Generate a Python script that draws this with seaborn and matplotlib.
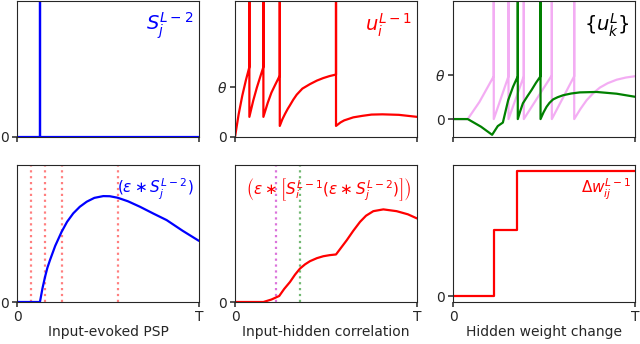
import numpy as np
import pandas as pd
import matplotlib
matplotlib.use("Agg")
import matplotlib.pyplot as plt
import seaborn as sns

sns.set_style("ticks")
plt.rcParams['font.family'] = ['DejaVu Sans']
plt.rcParams['mathtext.fontset'] = 'dejavusans'

SPIKE = 6.0  # spikes drawn off the top of the axes

# --- Input spike train S_j^{L-2}
t_input = [0.0, 0.126, 0.126, 0.126, 1.0]
s_input = [0.0, 0.0, SPIKE, 0.0, 0.0]

# --- Hidden membrane u_i^{L-1}
t_hidden = [0.0, 0.02, 0.04, 0.06, 0.079, 0.079, 0.079,
            0.10, 0.12, 0.14, 0.156, 0.156, 0.156,
            0.18, 0.20, 0.22, 0.246, 0.246, 0.246,
            0.26, 0.275, 0.29, 0.302, 0.32, 0.339, 0.37, 0.412, 0.45, 0.485, 0.52, 0.555, 0.555, 0.555,
            0.58, 0.60, 0.65, 0.70, 0.75, 0.81, 0.90, 1.0]
u_hidden = [0.0, 0.45, 0.82, 1.13, 1.39, SPIKE, 0.40,
            0.72, 0.98, 1.21, 1.39, SPIKE, 0.40,
            0.68, 0.88, 1.03, 1.22, SPIKE, 0.22,
            0.35, 0.46, 0.56, 0.63, 0.74, 0.84, 0.96, 1.05, 1.12, 1.17, 1.21, 1.24, SPIKE, 0.22,
            0.29, 0.33, 0.39, 0.42, 0.445, 0.45, 0.44, 0.40]
hidden_spike_times = [0.079, 0.156, 0.246, 0.555]

# --- Output membranes {u_k^L}
t_out_a = [0.0, 0.081, 0.154, 0.215, 0.246, 0.274, 0.303, 0.33, 0.356, 0.356, 0.356,
           0.37, 0.384, 0.41, 0.431, 0.456, 0.481, 0.481, 0.481,
           0.497, 0.514, 0.53, 0.55, 0.575, 0.605, 0.65, 0.697, 0.789, 0.899, 1.0]
u_out_a = [0.0, 0.0, -0.175, -0.36, -0.16, -0.08, 0.43, 0.74, 0.98, SPIKE, 0.0,
           0.19, 0.36, 0.53, 0.66, 0.83, 0.98, SPIKE, 0.0,
           0.15, 0.28, 0.37, 0.45, 0.50, 0.545, 0.585, 0.61, 0.62, 0.58, 0.51]
t_out_b = [0.0, 0.081, 0.145, 0.224, 0.224, 0.224, 0.305, 0.305, 0.305,
           0.389, 0.389, 0.389, 0.543, 0.543, 0.543, 0.666, 0.666, 0.666,
           0.70, 0.734, 0.77, 0.807, 0.85, 0.899, 0.95, 1.0]
u_out_b = [0.0, 0.0, 0.39, 0.98, SPIKE, 0.0, 0.98, SPIKE, 0.0,
           0.98, SPIKE, 0.0, 1.0, SPIKE, 0.0, 0.98, SPIKE, 0.0,
           0.23, 0.43, 0.59, 0.72, 0.82, 0.90, 0.95, 0.98]
output_first_spikes = [0.226, 0.356]

# --- Input-evoked PSP
t_psp = [0.0, 0.126, 0.14, 0.154, 0.167, 0.181, 0.21, 0.245, 0.275, 0.309, 0.345,
         0.383, 0.425, 0.474, 0.51, 0.553, 0.61, 0.676, 0.75, 0.822, 0.91, 1.0]
v_psp = [0.0, 0.0, 0.10, 0.183, 0.25, 0.305, 0.41, 0.512, 0.585, 0.647, 0.695,
         0.732, 0.760, 0.773, 0.772, 0.761, 0.735, 0.695, 0.645, 0.598, 0.52, 0.446]

# --- Input-hidden correlation
t_corr = [0.0, 0.156, 0.20, 0.243, 0.27, 0.302, 0.33, 0.357, 0.385, 0.412, 0.45, 0.485, 0.52, 0.555,
          0.585, 0.614, 0.65, 0.687, 0.72, 0.760, 0.815, 0.888, 0.95, 1.0]
v_corr = [0.0, 0.0, 0.018, 0.044, 0.095, 0.146, 0.20, 0.244, 0.275, 0.298, 0.32, 0.334, 0.342, 0.347,
          0.40, 0.451, 0.52, 0.585, 0.63, 0.663, 0.676, 0.663, 0.64, 0.61]

# --- Hidden weight change
t_dw = [0.0, 0.224, 0.354, 1.0]
v_dw = [0.0, 1.0, 1.9, 1.9]

xlabels = ["Input-evoked PSP", "Input-hidden correlation", "Hidden weight change"]
labels_top = [r"$S_j^{L-2}$", r"$u_i^{L-1}$", r"$\{u_k^L\}$"]
labels_bot = [r"$(\varepsilon \ast S_j^{L-2})$",
              r"$\left(\varepsilon \ast \left[S_i^{L-1}(\varepsilon \ast S_j^{L-2})\right]\right)$",
              r"$\Delta w_{ij}^{L-1}$"]

W, H = 640, 344
fig = plt.figure(figsize=(W / 100, H / 100), dpi=100)
lefts = [17, 235, 453]
aw = 182
def mk(left, top, bottom):
    return fig.add_axes([left / W, 1 - bottom / H, aw / W, (bottom - top) / H])

top_axes = [mk(l, 1, 137) for l in lefts]
bot_axes = [mk(l, 165, 302) for l in lefts]

lw = 1.6
ax = top_axes[0]
ax.spines['bottom'].set_zorder(1)
sns.lineplot(x=t_input, y=s_input, ax=ax, color='blue', lw=lw, estimator=None, sort=False)
ax.set_ylim(0, 1)
ax.set_yticks([0]); ax.set_yticklabels(['0'])

ax = top_axes[1]
sns.lineplot(x=t_hidden, y=u_hidden, ax=ax, color='red', lw=lw, estimator=None, sort=False)
ax.set_ylim(0, 2.7)
ax.set_yticks([0, 1]); ax.set_yticklabels(['0', r'$\theta$'])

ax = top_axes[2]
sns.lineplot(x=t_out_b, y=u_out_b, ax=ax, color='violet', lw=lw, alpha=0.65, estimator=None, sort=False)
sns.lineplot(x=t_out_a, y=u_out_a, ax=ax, color='green', lw=lw, estimator=None, sort=False)
ax.set_ylim(-0.41, 2.7)
ax.set_yticks([0, 1]); ax.set_yticklabels(['0', r'$\theta$'])

ax = bot_axes[0]
for ts in hidden_spike_times:
    ax.axvline(ts, color='red', alpha=0.5, ls=':', lw=1.6)
sns.lineplot(x=t_psp, y=v_psp, ax=ax, color='blue', lw=lw, estimator=None, sort=False)
ax.set_ylim(0, 1)
ax.set_yticks([0]); ax.set_yticklabels(['0'])

ax = bot_axes[1]
for ts, c in zip(output_first_spikes, ['m', 'green']):
    ax.axvline(ts, color=c, alpha=0.55, ls=':', lw=1.6)
sns.lineplot(x=t_corr, y=v_corr, ax=ax, color='red', lw=lw, estimator=None, sort=False)
ax.set_ylim(0, 1)
ax.set_yticks([0]); ax.set_yticklabels(['0'])

ax = bot_axes[2]
sns.lineplot(x=t_dw, y=v_dw, ax=ax, color='red', lw=lw, estimator=None, sort=False,
             drawstyle='steps-post')
ax.set_ylim(-0.09, 1.99)
ax.set_yticks([0]); ax.set_yticklabels(['0'])

colors_top = ['blue', 'red', 'black']
colors_bot = ['blue', 'red', 'red']
for i, ax in enumerate(top_axes):
    ax.set_xlim(0, 1)
    ax.set_xticks([0, 1]); ax.set_xticklabels([])
    ax.text(0.97, 0.82, labels_top[i], transform=ax.transAxes, ha='right', va='center',
            color=colors_top[i], fontsize=14)
for i, ax in enumerate(bot_axes):
    ax.set_xlim(0, 1)
    ax.set_xticks([0, 1]); ax.set_xticklabels(['0', 'T'])
    ax.set_xlabel(xlabels[i], fontsize=10, labelpad=1)
    ax.text(0.97 if i < 2 else 0.98, 0.82, labels_bot[i], transform=ax.transAxes,
            ha='right', va='center', color=colors_bot[i], fontsize=11)
for ax in top_axes + bot_axes:
    ax.tick_params(length=3.5, width=1.1, labelsize=10, pad=2)
    ax.set_ylabel('')

fig.savefig('out.png', dpi=100)
